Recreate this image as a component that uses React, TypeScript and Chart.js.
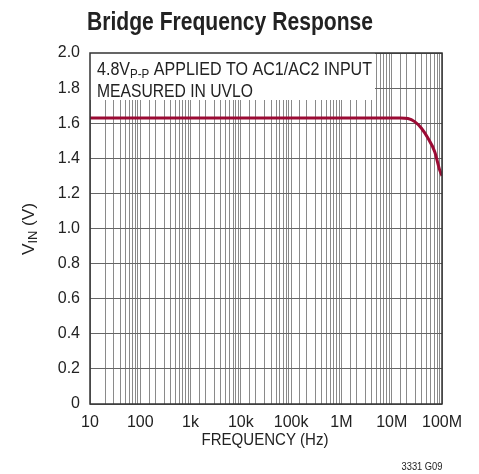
import React, { useEffect, useRef } from "react";
import { Chart, registerables } from "chart.js";

Chart.register(...registerables);

const frequencies = [10, 100, 1e3, 1e4, 1e5, 1e6, 1e7, 1.5e7, 2.1e7, 2.86e7, 3.9e7, 5.27e7, 7.16e7, 9e7, 1e8];
const vin = [1.63, 1.63, 1.63, 1.63, 1.63, 1.63, 1.63, 1.63, 1.627, 1.609, 1.571, 1.514, 1.438, 1.333, 1.3];
const decadeLabels: Record<number, string> = {
  10: "10", 100: "100", 1000: "1k", 10000: "10k", 100000: "100k",
  1000000: "1M", 10000000: "10M", 100000000: "100M",
};

const FONT = "'Liberation Sans', Arial, Helvetica, sans-serif";

type Part = { t: string; size: number; bold?: boolean; dy?: number };

function drawFitted(ctx: any, parts: Part[], x: number, y: number, width: number, align: "left" | "center") {
  let natural = 0;
  for (const p of parts) {
    ctx.font = `${p.bold ? "bold " : ""}${p.size}px ${FONT}`;
    natural += ctx.measureText(p.t).width;
  }
  const s = width / natural;
  ctx.save();
  ctx.translate(align === "center" ? x - width / 2 : x, y);
  ctx.scale(s, 1);
  ctx.textAlign = "left";
  ctx.textBaseline = "alphabetic";
  let cx = 0;
  for (const p of parts) {
    ctx.font = `${p.bold ? "bold " : ""}${p.size}px ${FONT}`;
    ctx.fillText(p.t, cx, p.dy ?? 0);
    cx += ctx.measureText(p.t).width;
  }
  ctx.restore();
}

const textPlugin = {
  id: "texts",
  beforeDatasetsDraw(chart: any) {
    const ctx = chart.ctx;
    const a = chart.chartArea;
    ctx.save();
    ctx.fillStyle = "#fff";
    ctx.fillRect(a.left, a.top, 375 - a.left, 100 - a.top);
    ctx.fillStyle = "#222";
    drawFitted(ctx, [
      { t: "4.8V", size: 18 },
      { t: "P-P", size: 13, dy: 3 },
      { t: " APPLIED TO AC1/AC2 INPUT", size: 18 },
    ], 97, 75, 275, "left");
    drawFitted(ctx, [{ t: "MEASURED IN UVLO", size: 18 }], 97, 97, 156, "left");
    ctx.restore();
  },
  afterDraw(chart: any) {
    const ctx = chart.ctx;
    const a = chart.chartArea;
    ctx.save();
    ctx.strokeStyle = "#333";
    ctx.lineWidth = 1.5;
    ctx.strokeRect(a.left, a.top, a.right - a.left, a.bottom - a.top);
    ctx.fillStyle = "#222";
    drawFitted(ctx, [{ t: "Bridge Frequency Response", size: 25, bold: true }], 230, 30, 286, "center");
    drawFitted(ctx, [{ t: "FREQUENCY (Hz)", size: 16 }], 265, 445, 127, "center");
    drawFitted(ctx, [{ t: "3331 G09", size: 10 }], 422, 470, 41, "center");
    ctx.translate(34, 229);
    ctx.rotate(-Math.PI / 2);
    drawFitted(ctx, [
      { t: "V", size: 16 },
      { t: "IN", size: 12, dy: 3 },
      { t: " (V)", size: 16 },
    ], 0, 0, 52, "center");
    ctx.restore();
  },
};

export default function App() {
  const ref = useRef<HTMLCanvasElement>(null);
  useEffect(() => {
    if (!ref.current) return;
    const chart = new Chart(ref.current, {
      type: "line",
      data: {
        datasets: [
          {
            data: frequencies.map((f, i) => ({ x: f, y: vin[i] })),
            borderColor: "#9b0b34",
            borderWidth: 3,
            pointRadius: 0,
            cubicInterpolationMode: "monotone",
            fill: false,
          },
        ],
      },
      options: {
        responsive: false,
        animation: false,
        layout: { padding: { top: 53, right: 37, left: 0, bottom: 0 } },
        plugins: { legend: { display: false }, tooltip: { enabled: false }, title: { display: false } },
        scales: {
          x: {
            type: "logarithmic",
            min: 10,
            max: 1e8,
            grid: { color: "#8a8a8a", lineWidth: 1, drawTicks: false },
            border: { display: false },
            ticks: {
              autoSkip: false,
              maxRotation: 0,
              minRotation: 0,
              padding: 9,
              color: "#222",
              font: { family: FONT, size: 16 },
              callback: (v: any) => decadeLabels[Math.round(Number(v))] ?? "",
            },
            afterFit: (s: any) => { s.height = 70; },
          },
          y: {
            min: 0,
            max: 2,
            grid: { color: "#666", lineWidth: 1, drawTicks: false },
            border: { display: false },
            ticks: {
              stepSize: 0.2,
              padding: 10,
              color: "#222",
              font: { family: FONT, size: 16 },
              callback: (v: any) => (Number(v) === 0 ? "0" : Number(v).toFixed(1)),
            },
            afterFit: (s: any) => { s.width = 90; },
          },
        },
      },
      plugins: [textPlugin],
    } as any);
    return () => chart.destroy();
  }, []);
  return (
    <div style={{ position: "absolute", left: 0, top: 0, width: 479, height: 474, background: "#fff" }}>
      <canvas ref={ref} width={479} height={474} />
    </div>
  );
}
